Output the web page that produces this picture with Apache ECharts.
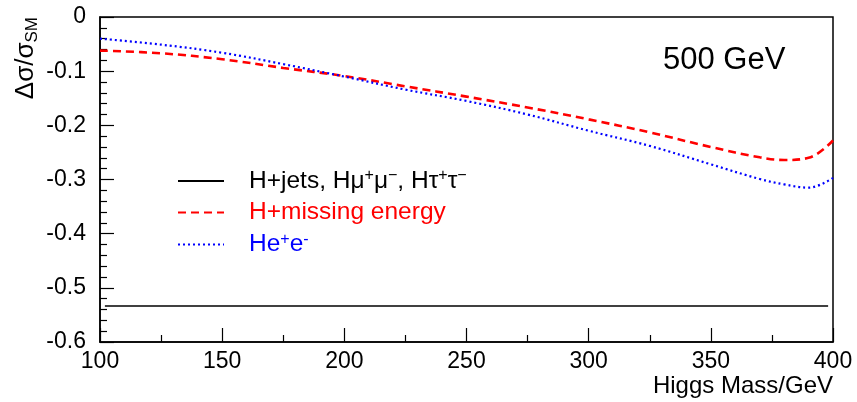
<!DOCTYPE html>
<html>
<head>
<meta charset="utf-8">
<script src="https://cdn.jsdelivr.net/npm/echarts@6/dist/echarts.min.js"></script>
<style>
  html, body { margin: 0; padding: 0; background: #fff; }
  #chart { width: 857px; height: 402px; }
</style>
</head>
<body>
<div id="chart"></div>
<script>
// Higgs mass points (GeV)
const massX = [100, 125, 150, 175, 200, 225, 250, 275, 300, 325, 350, 370, 380, 390, 400];
// H+missing energy
const missingE = [-0.062, -0.067, -0.078, -0.094, -0.109, -0.128, -0.147, -0.167, -0.189, -0.213, -0.240, -0.259, -0.264, -0.260, -0.228];
// He+e-
const heeVals = [-0.040, -0.051, -0.066, -0.087, -0.110, -0.134, -0.155, -0.180, -0.210, -0.238, -0.272, -0.299, -0.309, -0.315, -0.297];
// H+jets, Hmumu, Htautau (flat)
const jetsX = [102, 398];
const jetsVals = [-0.5335, -0.5335];

const FONT = '"Liberation Sans", Arial, Helvetica, sans-serif';

const nameJets = 'jets';
const nameMiss = 'miss';
const nameHee = 'hee';

const pairs = (xs, ys) => xs.map((x, i) => [x, ys[i]]);

const chart = echarts.init(document.getElementById('chart'));

const option = {
    animation: false,
    grid: {
        left: 100, right: 24, top: 17, bottom: 60,
        show: true, borderColor: '#000', borderWidth: 1.5,
        outerBoundsMode: 'none'
    },
    xAxis: {
        type: 'value', min: 100, max: 400, interval: 50,
        axisLine: {onZero: false, lineStyle: {color: '#000', width: 1.5}},
        axisTick: {inside: true, length: 14, lineStyle: {color: '#000', width: 1.2}},
        minorTick: {show: true, splitNumber: 2, length: 7, lineStyle: {color: '#000', width: 1.2}},
        axisLabel: {color: '#000', fontSize: 23, fontFamily: FONT, margin: 8},
        splitLine: {show: false},
        name: 'Higgs Mass/GeV', nameLocation: 'end',
        nameTextStyle: {color: '#000', fontSize: 24, fontFamily: FONT, align: 'right', verticalAlign: 'top',
            padding: [32, 0, 0, 0]},
        nameGap: 0
    },
    yAxis: {
        type: 'value', min: -0.6, max: 0, interval: 0.1,
        axisLine: {onZero: false, lineStyle: {color: '#000', width: 1.5}},
        axisTick: {inside: true, length: 14, lineStyle: {color: '#000', width: 1.2}},
        minorTick: {show: true, splitNumber: 5, length: 7, lineStyle: {color: '#000', width: 1.2}},
        axisLabel: {color: '#000', fontSize: 23, fontFamily: FONT, margin: 14,
            formatter: v => String(Math.round(v * 10) / 10)},
        splitLine: {show: false}
    },
    legend: {
        orient: 'vertical', left: 177, top: 168, padding: 0,
        itemWidth: 46, itemHeight: 14, itemGap: 6.5,
        itemStyle: {opacity: 0},
        data: [
            {name: nameJets, textStyle: {color: '#000'}},
            {name: nameMiss, textStyle: {color: '#ff0000'}},
            {name: nameHee, textStyle: {color: '#0000ff'}}
        ],
        formatter: function (n) {
            if (n === nameJets) return '{m|H+jets, Hμ}{s|+}{m|μ}{s|−}{m|, Hτ}{s|+}{m|τ}{s|−}';
            if (n === nameMiss) return '{m|H+missing energy}';
            return '{m|He}{s|+}{m|e}{s|-}';
        },
        textStyle: {
            fontFamily: FONT, fontSize: 24.5, padding: [0, 0, 0, 20],
            rich: {
                m: {fontSize: 24.5, fontFamily: FONT, lineHeight: 26},
                s: {fontSize: 16, fontFamily: FONT, lineHeight: 26, verticalAlign: 'top'}
            }
        }
    },
    graphic: [
        {
            type: 'text', x: 26, y: 17, rotation: Math.PI / 2,
            style: {
                text: '{a|Δσ/σ}{b|SM}',
                align: 'right', verticalAlign: 'middle',
                rich: {
                    a: {fontSize: 26, fontFamily: FONT, fill: '#000', lineHeight: 30},
                    b: {fontSize: 17, fontFamily: FONT, fill: '#000', lineHeight: 30, verticalAlign: 'bottom'}
                }
            }
        },
        {
            type: 'text', left: 663, top: 45,
            style: {text: '500 GeV', fontSize: 31, fontFamily: FONT, fill: '#000'}
        }
    ],
    series: [
        {
            name: nameJets, type: 'line', data: pairs(jetsX, jetsVals),
            symbol: 'none', lineStyle: {color: '#000', width: 1.4}, itemStyle: {color: '#000'}
        },
        {
            name: nameMiss, type: 'line', data: pairs(massX, missingE), smooth: 0.4,
            symbol: 'none', lineStyle: {color: '#ff0000', width: 2.6, type: [8, 5]}, itemStyle: {color: '#ff0000'}
        },
        {
            name: nameHee, type: 'line', data: pairs(massX, heeVals), smooth: 0.4,
            symbol: 'none', lineStyle: {color: '#0000ff', width: 2.2, type: [2, 3]}, itemStyle: {color: '#0000ff'}
        }
    ]
};

chart.setOption(option);
</script>
</body>
</html>
